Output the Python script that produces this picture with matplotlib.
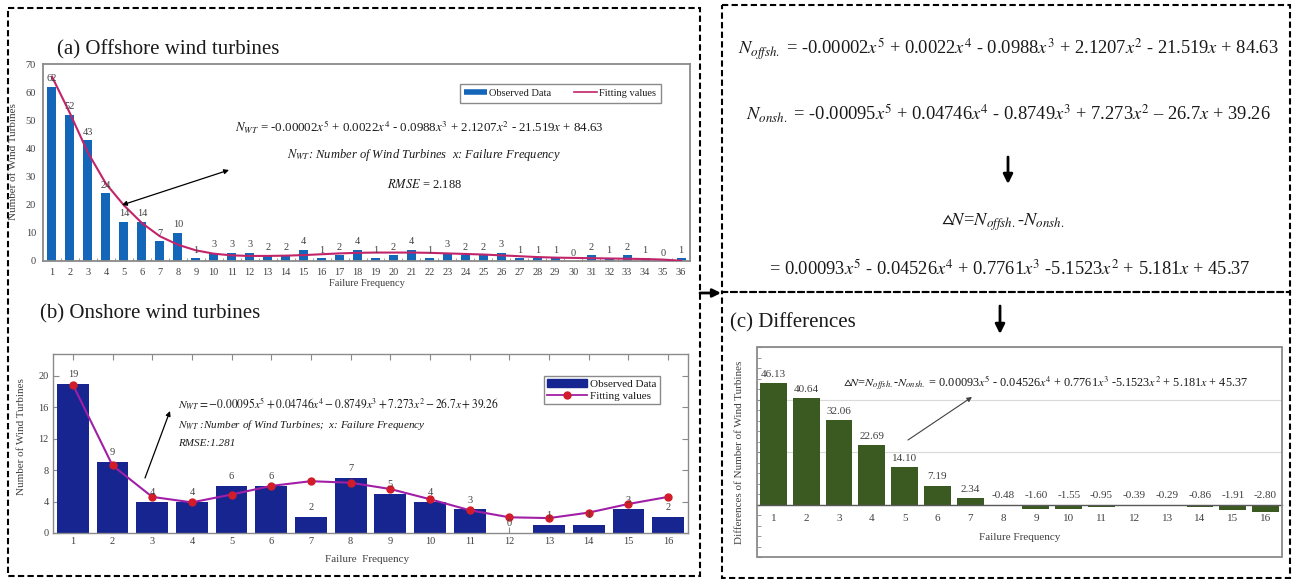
import matplotlib
matplotlib.use("Agg")
import matplotlib.pyplot as plt
import numpy as np
from matplotlib.lines import Line2D
from matplotlib.patches import Rectangle

W, H = 1295, 579

# (a) offshore
off_freq = list(range(1, 37))
off_obs = [62, 52, 43, 24, 14, 14, 7, 10, 1, 3, 3, 3, 2, 2, 4, 1, 2, 4, 1, 2,
           4, 1, 3, 2, 2, 3, 1, 1, 1, 0, 2, 1, 2, 1, 0, 1]
off_fit = [65.5, 52.5, 38.5, 27.5, 19.8, 13.5, 8.8, 5.8, 3.8, 2.6, 2.0, 1.8, 1.8, 1.9,
           2.1, 2.4, 2.7, 2.9, 3.0, 3.0, 3.0, 2.9, 2.7, 2.5, 2.3, 2.0, 1.7, 1.4, 1.2,
           1.1, 1.0, 0.9, 0.8, 0.7, 0.5, 0.1]
# (b) onshore
on_freq = list(range(1, 17))
on_obs = [19, 9, 4, 4, 6, 6, 2, 7, 5, 4, 3, 0, 1, 1, 3, 2]
on_fit = [18.9, 8.6, 4.6, 3.9, 4.9, 6.0, 6.6, 6.4, 5.6, 4.3, 2.9, 2.0, 1.9, 2.6, 3.7, 4.6]
# (c) differences
diff_freq = list(range(1, 17))
diffs = [46.13, 40.64, 32.06, 22.69, 14.10, 7.19, 2.34, -0.48, -1.60, -1.55, -0.95,
         -0.39, -0.29, -0.86, -1.91, -2.80]

BLUE, MAG = "#1466b8", "#c2246a"
NAVY, PURPLE, RED = "#16258f", "#a11fa6", "#d21c2a"
GREEN = "#3a5a22"
FRAME, TXT = "#8a8a8a", "#404040"

plt.rcParams.update({
    "font.family": "serif",
    "font.serif": ["Liberation Serif", "DejaVu Serif"],
    "mathtext.fontset": "stix",
    "text.color": "#1a1a1a",
})

fig = plt.figure(figsize=(W / 100, H / 100), dpi=100, facecolor="white")


def fax(x0, y0, x1, y1):
    return fig.add_axes([x0 / W, 1 - y1 / H, (x1 - x0) / W, (y1 - y0) / H])


def frame(ax, lw=1.3):
    for sp in ax.spines.values():
        sp.set_color(FRAME)
        sp.set_linewidth(lw)


# ---------- (a) ----------
axa = fax(43, 64, 690, 261)
axa.bar(off_freq, off_obs, width=0.5, color=BLUE, zorder=2)
axa.plot(off_freq, off_fit, color=MAG, lw=1.5, zorder=3)
for x, v in zip(off_freq, off_obs):
    axa.annotate(str(v), (x, v), xytext=(0, 2.5), textcoords="offset points",
                 ha="center", va="bottom", fontsize=7.5, color=TXT)
axa.set_xlim(0.5, 36.5)
axa.set_ylim(0, 70)
axa.set_yticks(range(0, 71, 10))
axa.set_xticks(off_freq)
axa.set_xticks(np.arange(1.5, 36, 1), minor=True)
axa.tick_params(axis="both", which="major", length=0, labelsize=7.5, labelcolor=TXT, pad=5)
axa.tick_params(axis="x", which="minor", direction="in", length=2, color=FRAME)
frame(axa)
axa.legend([Line2D([], [], color=BLUE, lw=4, solid_capstyle="butt"),
            Line2D([], [], color=MAG, lw=1.2)],
           ["Observed Data", "Fitting values"], ncol=2, fontsize=7.5,
           loc="upper right", bbox_to_anchor=(661 / W, 1 - 84 / H),
           bbox_transform=fig.transFigure, borderaxespad=0, fancybox=False,
           edgecolor=FRAME, framealpha=1, handlelength=2.2, handletextpad=0.2,
           columnspacing=2.2, borderpad=0.45)

# ---------- (b) ----------
axb = fax(53, 354, 688, 533)
axb.bar(on_freq, on_obs, width=0.8, color=NAVY, zorder=2)
axb.plot(on_freq, on_fit, color=PURPLE, lw=1.5, marker="o", ms=5,
         mfc=RED, mec=RED, zorder=3)
for x, v in zip(on_freq, on_obs):
    axb.annotate(str(v), (x, v), xytext=(0, 3.5), textcoords="offset points",
                 ha="center", va="bottom", fontsize=7.5, color=TXT)
axb.set_xlim(0.5, 16.5)
axb.set_ylim(0, 22.8)
axb.set_yticks(range(0, 21, 4))
axb.set_xticks(on_freq)
axb.tick_params(axis="both", direction="in", length=4, color=FRAME, top=True,
                right=True, labelsize=7.5, labelcolor=TXT, pad=3)
frame(axb, 1.0)
axb.legend([Rectangle((0, 0), 1, 1, color=NAVY),
            Line2D([], [], color=PURPLE, lw=1.3, marker="o", ms=5, mfc=RED, mec=RED)],
           ["Observed Data", "Fitting values"], fontsize=8,
           loc="upper right", bbox_to_anchor=(660 / W, 1 - 376 / H),
           bbox_transform=fig.transFigure, borderaxespad=0, fancybox=False,
           edgecolor=FRAME, framealpha=1, handlelength=3.6, handletextpad=0.3,
           borderpad=0.3, labelspacing=0.15)

# ---------- (c) ----------
axc = fax(757, 347, 1282, 557)
axc.bar(diff_freq, diffs, width=0.82, color=GREEN, zorder=2)
for x, v in zip(diff_freq, diffs):
    axc.annotate(f"{v:.2f}", (x, max(v, 0)), xytext=(0, 3), textcoords="offset points",
                 ha="center", va="bottom", fontsize=8, color=TXT)
axc.set_xlim(0.5, 16.5)
axc.set_ylim(-20, 60)
axc.set_yticks([-20, 0, 20, 40, 60])
axc.set_yticks(np.arange(-20, 61, 4), minor=True)
axc.grid(axis="y", which="major", color="#d9d9d9", lw=0.8, zorder=0)
axc.set_axisbelow(True)
axc.set_xticks(diff_freq)
axc.tick_params(axis="y", which="both", direction="in", length=3, color=FRAME,
                labelleft=False)
axc.tick_params(axis="x", length=0, labelsize=8, labelcolor=TXT, pad=7)
for s in ["top", "right", "left"]:
    axc.spines[s].set_visible(False)
axc.spines["bottom"].set_position(("data", 0))
axc.spines["bottom"].set_color("#595959")
axc.spines["bottom"].set_linewidth(1.0)
axc.add_patch(Rectangle((0, 0), 1, 1, transform=axc.transAxes, fill=False,
                        edgecolor=FRAME, lw=1.3, clip_on=False, zorder=5))

# ---------- overlay: boxes, titles, equations, arrows ----------
ov = fig.add_axes([0, 0, 1, 1], zorder=10)
ov.set_xlim(0, W)
ov.set_ylim(H, 0)
ov.axis("off")
ov.patch.set_alpha(0)

dash = dict(fill=False, edgecolor="black", lw=1.5, ls=(0, (3, 1.6)))
ov.add_patch(Rectangle((8, 8), 692, 568, **dash))
ov.add_patch(Rectangle((722, 5), 568, 287, **dash))
ov.add_patch(Rectangle((722, 292), 568, 286, **dash))

ov.text(57, 50, "(a) Offshore wind turbines", fontsize=15, ha="left", va="center")
ov.text(40, 314, "(b) Onshore wind turbines", fontsize=15, ha="left", va="center")
ov.text(730, 323, "(c) Differences", fontsize=15, ha="left", va="center")

# axis labels
ov.text(14, 162, "Number of Wind Turbines", fontsize=8, rotation=90, ha="center", va="center", color=TXT)
ov.text(367, 284, "Failure Frequency", fontsize=7.5, ha="center", va="center", color=TXT)
ov.text(22, 437, "Number of Wind Turbines", fontsize=8, rotation=90, ha="center", va="center", color=TXT)
ov.text(367, 560, "Failure  Frequency", fontsize=8, ha="center", va="center", color=TXT)
ov.text(740, 452, "Differences of Number of Wind Turbines", fontsize=8, rotation=90,
        ha="center", va="center", color=TXT)
ov.text(1020, 538, "Failure Frequency", fontsize=8, ha="center", va="center", color=TXT)

# (a) equation block
ov.text(419, 127, "$N_{WT}$ = -0.00002$x^5$ + 0.0022$x^4$ - 0.0988$x^3$ + 2.1207$x^2$ - 21.519$x$ + 84.63",
        fontsize=9.3, ha="center", va="center")
ov.text(424, 155, "$N_{WT}$: Number of Wind Turbines  x: Failure Frequency",
        fontsize=9, style="italic", ha="center", va="center")
ov.text(425, 185, "$RMSE$ = 2.188", fontsize=9, ha="center", va="center")
ov.annotate("", xy=(122, 205), xytext=(229, 170),
            arrowprops=dict(arrowstyle="<|-|>", color="black", lw=0.9,
                            mutation_scale=7, shrinkA=0, shrinkB=0))

# (b) equation block
ov.text(178, 404, "$N_{WT}=-0.00095x^5+0.04746x^4-0.8749x^3+7.273x^2-26.7x+39.26$",
        fontsize=8.3, ha="left", va="center")
ov.text(178, 425, "$N_{WT}$ :Number of Wind Turbines;  x: Failure Frequency",
        fontsize=8, style="italic", ha="left", va="center")
ov.text(178, 443, "RMSE:1.281", fontsize=8, style="italic", ha="left", va="center")
ov.annotate("", xy=(170, 411), xytext=(145, 478),
            arrowprops=dict(arrowstyle="-|>", color="black", lw=0.9,
                            mutation_scale=7, shrinkA=0, shrinkB=0))

# right top box equations
EQ = 13.3
ov.text(1008, 49, "$N_{offsh.}$ = -0.00002$x^5$ + 0.0022$x^4$ - 0.0988$x^3$ + 2.1207$x^2$ - 21.519$x$ + 84.63",
        fontsize=EQ, ha="center", va="center")
ov.text(1008, 114, "$N_{onsh.}$ = -0.00095$x^5$ + 0.04746$x^4$ - 0.8749$x^3$ + 7.273$x^2$ \u2013 26.7$x$ + 39.26",
        fontsize=EQ, ha="center", va="center")
ov.annotate("", xy=(1008, 184), xytext=(1008, 157),
            arrowprops=dict(arrowstyle="-|>", color="black", lw=2,
                            mutation_scale=14, shrinkA=0, shrinkB=0))
ov.text(1003, 222, "$\\vartriangle\\!N$=$N_{offsh.}$-$N_{onsh.}$", fontsize=EQ, ha="center", va="center")
ov.text(1010, 269, "= 0.00093$x^5$ - 0.04526$x^4$ + 0.7761$x^3$ -5.1523$x^2$ + 5.181$x$ + 45.37",
        fontsize=EQ, ha="center", va="center")

# (c) equation + arrows
ov.text(843, 383, "$\\vartriangle\\!N$=$N_{offsh.}$-$N_{onsh.}$ = 0.00093$x^5$ - 0.04526$x^4$ + 0.7761$x^3$ -5.1523$x^2$ + 5.181$x$ + 45.37",
        fontsize=8.8, ha="left", va="center")
ov.annotate("", xy=(972, 397), xytext=(908, 440),
            arrowprops=dict(arrowstyle="-|>", color="#404040", lw=0.8,
                            mutation_scale=7, shrinkA=0, shrinkB=0))
ov.annotate("", xy=(1000, 334), xytext=(1000, 306),
            arrowprops=dict(arrowstyle="-|>", color="black", lw=2,
                            mutation_scale=14, shrinkA=0, shrinkB=0))
ov.annotate("", xy=(721, 293), xytext=(700, 293),
            arrowprops=dict(arrowstyle="-|>", color="black", lw=2,
                            mutation_scale=12, shrinkA=0, shrinkB=0))

fig.savefig("out.png", dpi=100, facecolor="white")
